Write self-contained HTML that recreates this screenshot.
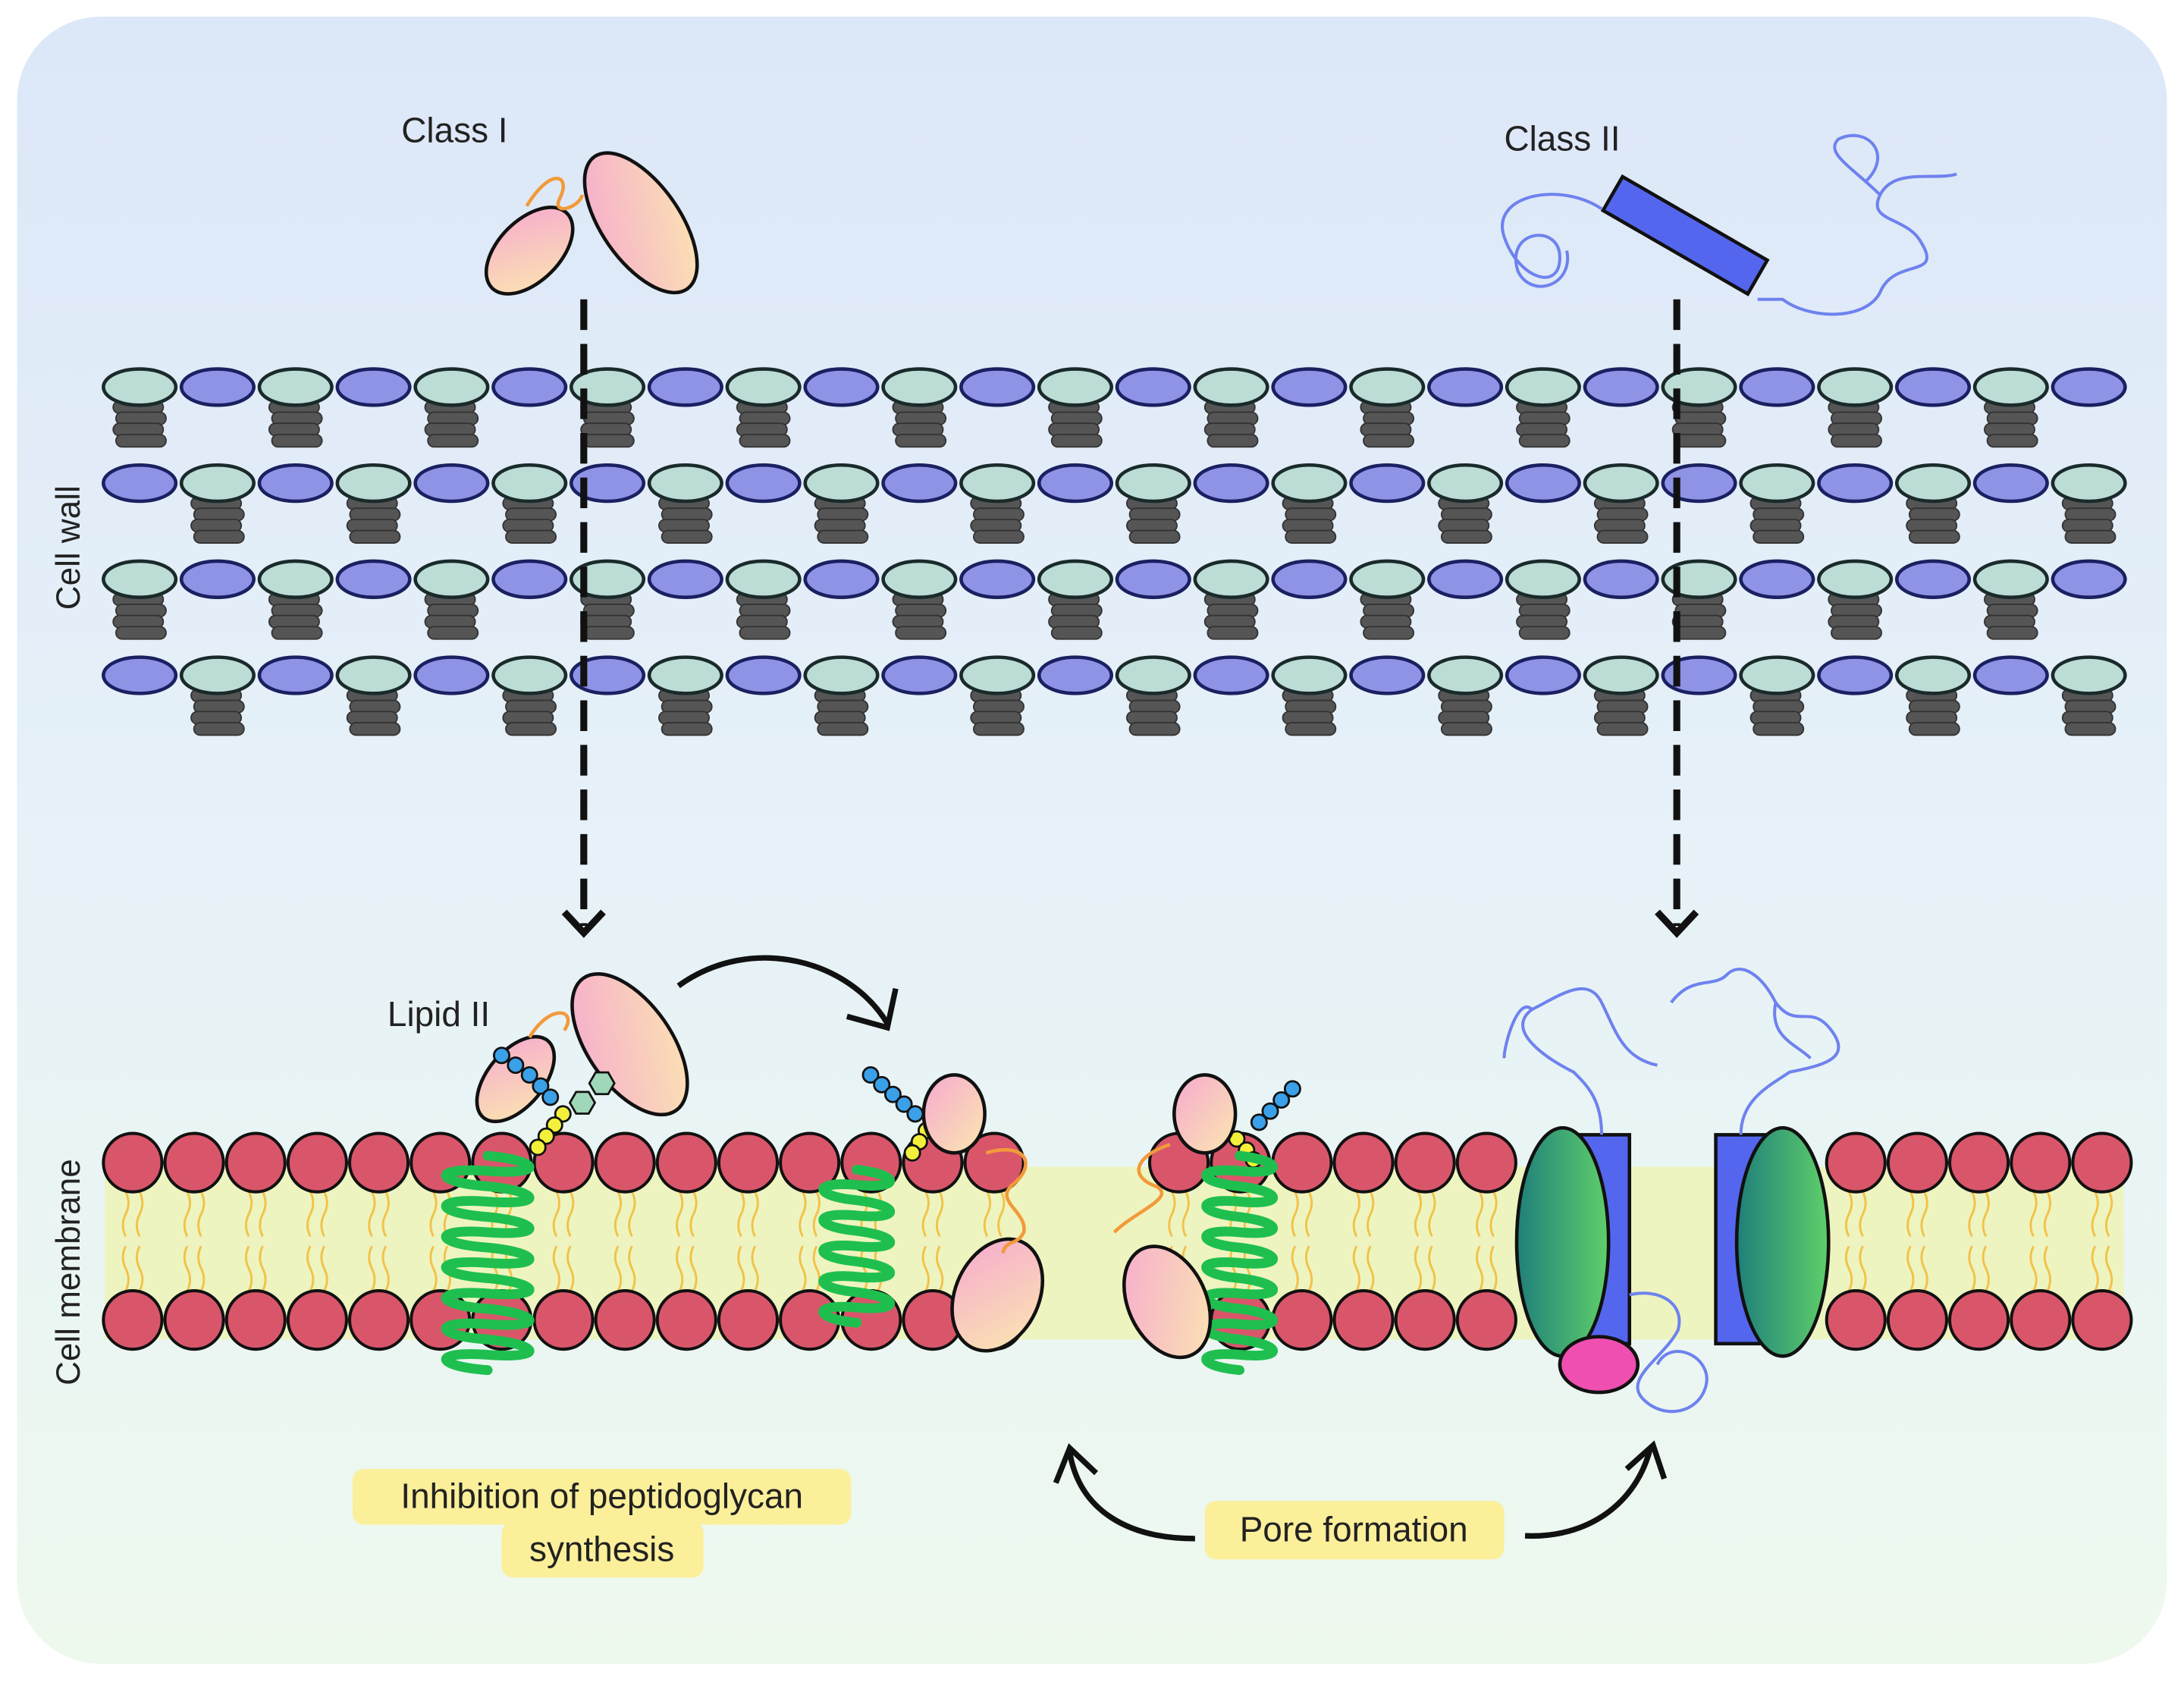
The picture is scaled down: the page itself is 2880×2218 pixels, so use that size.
<!DOCTYPE html>
<html><head><meta charset="utf-8"><style>
html,body{margin:0;padding:0;background:#fff;width:2880px;height:2218px;overflow:hidden}
svg{display:block}
text{font-family:"Liberation Sans",sans-serif;fill:#222}
</style></head><body>
<svg id="s" width="2880" height="2218" viewBox="0 0 1568 1208" xmlns="http://www.w3.org/2000/svg">
<defs>
<linearGradient id="bg" x1="0" y1="0" x2="0" y2="1"><stop offset="0" stop-color="#dce7f8"/><stop offset="0.5" stop-color="#e6f1f8"/><stop offset="1" stop-color="#eef9ee"/></linearGradient>
<linearGradient id="pk" x1="0" y1="0" x2="1" y2="1"><stop offset="0" stop-color="#f6a9cf"/><stop offset="1" stop-color="#fbe7b0"/></linearGradient>
<linearGradient id="gr" x1="0" y1="0" x2="1" y2="0"><stop offset="0" stop-color="#1f7f7a"/><stop offset="1" stop-color="#5fcf6a"/></linearGradient>
</defs>
<rect x="12" y="12" width="1544" height="1183" rx="60" fill="url(#bg)"/>
<g id="wall"></g>
<rect x="75" y="838" width="1450" height="124" fill="#eef4bf"/>
<g id="tails" stroke="#f2c24a" stroke-width="1.6" fill="none"></g>
<g id="mem"></g>
<g stroke="#111" stroke-width="5" fill="none">
<line x1="419" y1="215" x2="419" y2="665" stroke-dasharray="22,10"/>
<polyline points="405,655 419,670 433,655"/>
<line x1="1204" y1="215" x2="1204" y2="665" stroke-dasharray="22,10"/>
<polyline points="1190,655 1204,670 1218,655"/>
</g>
<text x="288" y="102" font-size="25">Class I</text>
<g stroke="#111" stroke-width="2.5">
<ellipse cx="380" cy="180" rx="22" ry="38" transform="rotate(45 380 180)" fill="url(#pk)"/>
<ellipse cx="460" cy="160" rx="28" ry="58" transform="rotate(-35 460 160)" fill="url(#pk)"/>
</g>
<path d="M378 148 C395 120 410 125 402 142 C395 155 415 150 418 140" stroke="#f29a3a" stroke-width="2.5" fill="none"/>
<text x="1080" y="108" font-size="25">Class II</text>
<rect x="1150" y="155" width="120" height="28" fill="#5566ee" stroke="#111" stroke-width="2.5" transform="rotate(30 1210 169)"/>
<g stroke="#6e82ee" stroke-width="2.2" fill="none">
<path d="M1150 150 C1120 130 1070 140 1080 170 C1090 200 1120 210 1120 185 C1120 160 1080 165 1090 195 C1100 215 1130 205 1125 180"/>
<path d="M1262 215 L1280 215 C1300 230 1340 230 1350 210 C1360 185 1395 200 1380 175 C1370 155 1340 160 1350 140 C1360 120 1390 130 1405 125 M1350 140 C1330 120 1310 110 1320 100 C1340 90 1360 110 1340 130"/>
</g>
<text x="278" y="737" font-size="25">Lipid II</text>
<g stroke="#111" stroke-width="2.5">
<ellipse cx="370" cy="775" rx="20" ry="36" transform="rotate(40 370 775)" fill="url(#pk)"/>
<ellipse cx="452" cy="750" rx="30" ry="58" transform="rotate(-35 452 750)" fill="url(#pk)"/>
</g>
<path d="M380 745 C395 720 415 725 405 740" stroke="#f29a3a" stroke-width="2.5" fill="none"/>
<g id="beads"></g>
<g id="helix" fill="none" stroke="#1fbf4f" stroke-width="7" stroke-linecap="round"></g>
<g stroke="#111" stroke-width="2.5">
<ellipse cx="685" cy="800" rx="22" ry="28" fill="url(#pk)"/>
<ellipse cx="716" cy="930" rx="30" ry="42" transform="rotate(25 716 930)" fill="url(#pk)"/>
<ellipse cx="865" cy="800" rx="22" ry="28" fill="url(#pk)"/>
<ellipse cx="838" cy="935" rx="28" ry="42" transform="rotate(-25 838 935)" fill="url(#pk)"/>
</g>
<g stroke="#f29a3a" stroke-width="2.5" fill="none">
<path d="M708 828 C735 820 745 835 728 850 C712 862 738 870 735 885 C730 895 722 890 720 900"/>
<path d="M840 822 C815 830 810 845 830 852 C845 860 815 870 800 885"/>
</g>
<g stroke="#111" stroke-width="2.5">
<rect x="1128" y="815" width="42" height="150" fill="#5566ee"/>
<rect x="1232" y="815" width="42" height="150" fill="#5566ee"/>
<ellipse cx="1122" cy="892" rx="33" ry="82" fill="url(#gr)"/>
<ellipse cx="1280" cy="892" rx="33" ry="82" fill="url(#gr)"/>
<ellipse cx="1148" cy="980" rx="28" ry="20" fill="#ee4fb0"/>
</g>
<g stroke="#6e82ee" stroke-width="2.2" fill="none">
<path d="M1150 815 C1150 790 1140 780 1130 770 C1110 760 1080 740 1100 725 C1120 715 1140 700 1150 720 C1160 740 1165 760 1190 765 M1100 725 C1090 715 1080 750 1080 760"/>
<path d="M1250 815 C1250 790 1270 780 1285 770 C1310 765 1330 760 1315 740 C1300 720 1290 740 1275 720 C1265 700 1250 690 1240 700 C1230 710 1215 700 1200 720 M1275 720 C1270 745 1290 750 1300 760"/>
<path d="M1170 930 C1190 925 1210 935 1205 955 C1195 975 1165 990 1180 1005 C1195 1020 1220 1015 1225 995 C1230 975 1200 960 1190 980"/>
</g>
<g stroke="#111" stroke-width="4" fill="none">
<path d="M487 708 C540 670 610 690 637 735"/>
<polyline points="608,730 637,738 643,710"/>
<path d="M858 1105 C810 1105 775 1085 768 1043"/>
<polyline points="758,1065 768,1040 787,1058"/>
<path d="M1095 1103 C1140 1105 1175 1080 1185 1040"/>
<polyline points="1168,1055 1187,1038 1195,1062"/>
</g>
<rect x="253" y="1055" width="358" height="40" rx="8" fill="#fbef9a"/>
<rect x="360" y="1093" width="145" height="40" rx="8" fill="#fbef9a"/>
<text x="432" y="1083" font-size="25" text-anchor="middle">Inhibition of peptidoglycan</text>
<text x="432" y="1121" font-size="25" text-anchor="middle">synthesis</text>
<rect x="865" y="1078" width="215" height="42" rx="8" fill="#fbef9a"/>
<text x="972" y="1107" font-size="25" text-anchor="middle">Pore formation</text>
<text font-size="24" transform="translate(57 438) rotate(-90)">Cell wall</text>
<text font-size="24" transform="translate(57 995) rotate(-90)">Cell membrane</text>
</svg>
<script>
var NS="http://www.w3.org/2000/svg";
function el(p,t,a){var e=document.createElementNS(NS,t);for(var k in a)e.setAttribute(k,a[k]);p.appendChild(e);return e;}
var wall=document.getElementById("wall");
var rows=[278,347,416,485];
rows.forEach(function(y,r){
 for(var i=0;i<26;i++){
  var x=100+i*56;var teal=((i+r)%2==0);
  if(teal){for(var j=0;j<4;j++){el(wall,"rect",{x:x-19+(j%2?2:0),y:y+10+j*8,width:36,height:9,rx:4.5,fill:"#555",stroke:"#333","stroke-width":1});}}
 }
 for(var i=0;i<26;i++){
  var x=100+i*56;var teal=((i+r)%2==0);
  el(wall,"ellipse",{cx:x,cy:y,rx:26,ry:13,fill:teal?"#bcdcd6":"#8f93e6",stroke:teal?"#1a2a2a":"#1a2060","stroke-width":2.5});
 }
});
var mem=document.getElementById("mem"),tails=document.getElementById("tails");
for(var i=0;i<33;i++){
 var x=95+i*44.2;
 var skipTop=(x>725&&x<820)||(x>1075&&x<1315);
 var skipBot=(x>740&&x<815)||(x>1075&&x<1315);
 if(!skipTop){el(mem,"circle",{cx:x,cy:835,r:21,fill:"#d9566a",stroke:"#111","stroke-width":2.2});}
 if(!skipBot){el(mem,"circle",{cx:x,cy:948,r:21,fill:"#d9566a",stroke:"#111","stroke-width":2.2});}
 if(!skipTop){
  [-5,5].forEach(function(d){el(tails,"path",{d:"M"+(x+d)+" 856 q4 8 0 16 q-4 8 0 16 M"+(x+d)+" 927 q4 -8 0 -16 q-4 -8 0 -16"});});
 }
}
var b=document.getElementById("beads");
function bead(x,y,c,r){el(b,"circle",{cx:x,cy:y,r:r||5.5,fill:c,stroke:"#111","stroke-width":1.5});}
function hex(x,y){var p=[];for(var k=0;k<6;k++){var a=Math.PI/3*k;p.push((x+9*Math.cos(a))+","+(y+9*Math.sin(a)));}el(b,"polygon",{points:p.join(" "),fill:"#9fd8b8",stroke:"#111","stroke-width":1.5});}
[[360,758],[370,765],[380,772],[388,780],[395,788]].forEach(function(p){bead(p[0],p[1],"#3aa0e8");});
hex(432,778);hex(418,792);
[[404,800],[398,808],[392,816],[386,824]].forEach(function(p){bead(p[0],p[1],"#f2f03a");});
[[625,772],[633,779],[641,786],[649,793],[657,800]].forEach(function(p){bead(p[0],p[1],"#3aa0e8");});
hex(690,790);hex(675,805);[[665,812],[660,820],[655,828]].forEach(function(p){bead(p[0],p[1],"#f2f03a");});
[[928,782],[920,790],[912,798],[904,806]].forEach(function(p){bead(p[0],p[1],"#3aa0e8");});
hex(858,800);hex(875,812);[[888,818],[895,826],[900,833]].forEach(function(p){bead(p[0],p[1],"#f2f03a");});
var h=document.getElementById("helix");
function helix(x,y0,y1,w){var d="M"+x+" "+y0;for(var y=y0;y<y1;y+=22){d+=" c"+w+" 4 "+w+" 14 0 11 c-"+w+" -3 -"+w+" 8 0 11";}el(h,"path",{d:d});}
helix(350,830,965,40);helix(615,840,950,32);helix(890,830,965,32);
</script>
</body></html>
